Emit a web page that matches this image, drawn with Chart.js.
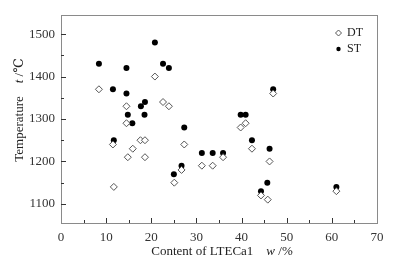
<!DOCTYPE html>
<html>
<head>
<meta charset="utf-8">
<script src="https://cdn.jsdelivr.net/npm/chart.js@4.4.0/dist/chart.umd.min.js"></script>
<style>
  html, body { margin: 0; padding: 0; background: #fff; }
  #wrap { width: 403px; height: 270px; }
</style>
</head>
<body>
<div id="wrap"><canvas id="chart"></canvas></div>
<script>
// LTECa1 含量 (w /%)
const stContent = [8.4, 11.5, 11.7, 14.5, 14.5, 14.8, 15.8, 17.7, 18.6, 18.5, 20.8, 22.6, 23.9, 25.0, 26.7, 27.3, 31.2, 33.6, 35.9, 39.8, 40.9, 42.3, 44.3, 45.7, 46.2, 47.0, 61.0];
const stTemp = [1430, 1370, 1250, 1420, 1360, 1310, 1290, 1330, 1340, 1310, 1480, 1430, 1420, 1170, 1190, 1280, 1220, 1220, 1220, 1310, 1310, 1250, 1130, 1150, 1230, 1370, 1140];
const dtContent = [8.4, 11.5, 11.7, 14.5, 14.5, 14.8, 15.9, 17.6, 18.6, 18.6, 20.8, 22.6, 23.9, 25.1, 26.7, 27.3, 31.2, 33.6, 35.9, 39.8, 40.9, 42.3, 44.3, 45.8, 46.2, 47.0, 61.0];
const dtTemp = [1370, 1240, 1140, 1330, 1290, 1210, 1230, 1250, 1250, 1210, 1400, 1340, 1330, 1150, 1180, 1240, 1190, 1190, 1210, 1280, 1290, 1230, 1120, 1110, 1200, 1360, 1130];

const xTicks = [0, 10, 20, 30, 40, 50, 60, 70];
const yTicks = [1100, 1200, 1300, 1400, 1500];

const FONT = '"Liberation Serif", "DejaVu Serif", serif';
const FRAME = '#8a8a8a';

function toPoints(xs, ys) {
    return xs.map((x, i) => ({ x: x, y: ys[i] }));
}

// 画一行混合字体的文字（正体+斜体），以 cx 为中心
function drawRich(ctx, parts, cx, cy) {
    let total = 0;
    parts.forEach(p => { ctx.font = p[1] + '13px ' + FONT; total += ctx.measureText(p[0]).width; });
    let x = cx - total / 2;
    parts.forEach(p => {
        ctx.font = p[1] + '13px ' + FONT;
        ctx.fillText(p[0], x, cy);
        x += ctx.measureText(p[0]).width;
    });
}

// 边框、向内刻度、坐标轴标题和图例
const framePlugin = {
    id: 'frame',
    afterDraw(chart) {
        const ctx = chart.ctx;
        const a = chart.chartArea;
        const xs = chart.scales.x;
        const ys = chart.scales.y;
        ctx.save();
        ctx.strokeStyle = FRAME;
        ctx.lineWidth = 1;
        ctx.strokeRect(Math.round(a.left) + 0.5, Math.round(a.top) + 0.5,
            Math.round(a.right - a.left), Math.round(a.bottom - a.top));
        ctx.strokeStyle = '#333';
        ctx.beginPath();
        for (let v = 5; v < 70; v += 5) {
            const px = Math.round(xs.getPixelForValue(v)) + 0.5;
            const len = v % 10 === 0 ? 5 : 3;
            ctx.moveTo(px, a.bottom);
            ctx.lineTo(px, a.bottom - len);
        }
        for (let v = 1100; v <= 1500; v += 50) {
            const py = Math.round(ys.getPixelForValue(v)) + 0.5;
            const len = v % 100 === 0 ? 5 : 3;
            ctx.moveTo(a.left, py);
            ctx.lineTo(a.left + len, py);
        }
        ctx.stroke();

        // 坐标轴标题
        ctx.fillStyle = '#222';
        ctx.textBaseline = 'middle';
        drawRich(ctx, [['Content of LTECa1    ', ''], ['w', 'italic '], [' /%', '']], 222, 252);
        ctx.save();
        ctx.translate(20, 110);
        ctx.rotate(-Math.PI / 2);
        drawRich(ctx, [['Temperature    ', ''], ['t', 'italic '], [' /℃', '']], 0, 0);
        ctx.restore();

        // 图例
        ctx.font = '12px ' + FONT;
        ctx.fillStyle = '#222';
        ctx.fillText('DT', 347, 33);
        ctx.fillText('ST', 347, 49);
        ctx.strokeStyle = '#555';
        ctx.beginPath();
        ctx.moveTo(338.5, 30); ctx.lineTo(341.5, 33); ctx.lineTo(338.5, 36); ctx.lineTo(335.5, 33); ctx.closePath();
        ctx.stroke();
        ctx.beginPath();
        ctx.arc(338.5, 49, 2.2, 0, Math.PI * 2);
        ctx.fillStyle = '#000';
        ctx.fill();
        ctx.restore();
    }
};

new Chart(document.getElementById('chart').getContext('2d'), {
    type: 'scatter',
    data: {
        datasets: [
            {
                label: 'DT',
                data: toPoints(dtContent, dtTemp),
                pointStyle: 'rectRot',
                pointRadius: 3.5,
                pointBackgroundColor: '#fff',
                pointBorderColor: '#555',
                pointBorderWidth: 1
            },
            {
                label: 'ST',
                data: toPoints(stContent, stTemp),
                pointStyle: 'circle',
                pointRadius: 3,
                pointBackgroundColor: '#000',
                pointBorderColor: '#000',
                pointBorderWidth: 0
            }
        ]
    },
    options: {
        responsive: true,
        maintainAspectRatio: false,
        animation: false,
        layout: { padding: { left: 0, right: 26, top: 15, bottom: 0 } },
        scales: {
            x: {
                type: 'linear',
                min: 0,
                max: 70,
                afterBuildTicks(scale) { scale.ticks = xTicks.map(v => ({ value: v })); },
                afterFit(scale) { scale.height = 47; },
                grid: { display: false, drawTicks: false },
                border: { display: false },
                ticks: { color: '#333', padding: 7, font: { family: FONT, size: 13 }, callback: v => String(v) }
            },
            y: {
                type: 'linear',
                min: 1055,
                max: 1545,
                afterBuildTicks(scale) { scale.ticks = yTicks.map(v => ({ value: v })); },
                afterFit(scale) { scale.width = 61; },
                grid: { display: false, drawTicks: false },
                border: { display: false },
                ticks: { color: '#333', padding: 6, font: { family: FONT, size: 13 }, callback: v => String(v) }
            }
        },
        plugins: {
            legend: { display: false },
            tooltip: { enabled: false }
        }
    },
    plugins: [framePlugin]
});
</script>
</body>
</html>
